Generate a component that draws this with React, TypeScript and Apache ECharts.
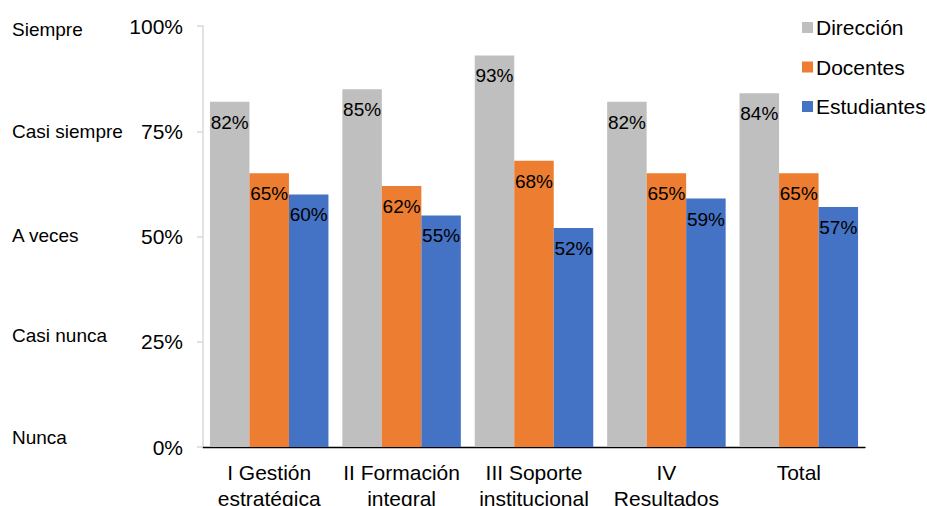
import React, { useEffect, useRef } from "react";
import * as echarts from "echarts";

const categories = ["I Gestión\nestratégica", "II Formación\nintegral", "III Soporte\ninstitucional", "IV\nResultados", "Total"];
const seriesNames = ["Dirección", "Docentes", "Estudiantes"];
const direccion = [82, 85, 93, 82, 84];
const docentes = [65, 62, 68, 65, 65];
const estudiantes = [60, 55, 52, 59, 57];
const yTicks = [0, 25, 50, 75, 100];
const scaleLabels = ["Nunca", "Casi nunca", "A veces", "Casi siempre", "Siempre"];
const colors = ["#bfbfbf", "#ed7d31", "#4472c4"];

const FONT = "Liberation Sans, Arial, sans-serif";

export default function App() {
  const ref = useRef<HTMLDivElement>(null);
  useEffect(() => {
    const chart = echarts.init(ref.current!, null, { renderer: "svg" });
    const top = 26;
    const bottom = 447;
    const scaleY = [438, 336, 236, 132, 30];
    const label = {
      show: true,
      position: "insideTop",
      distance: 11,
      formatter: (p: any) => p.value + "%",
      color: "#000",
      fontSize: 19,
      fontFamily: FONT,
    };
    const dataSets = [direccion, docentes, estudiantes];
    chart.setOption({
      animation: false,
      color: colors,
      textStyle: { fontFamily: FONT },
      grid: { left: 203, right: 62, top: top, bottom: 506 - bottom, outerBoundsMode: "none", containLabel: false },
      legend: {
        orient: "vertical",
        left: 797,
        top: 12,
        itemWidth: 11,
        itemHeight: 11,
        itemGap: 18.5,
        icon: "rect",
        textStyle: { fontSize: 21, color: "#000", fontFamily: FONT, lineHeight: 21, padding: [0, 0, 0, -2] },
        data: seriesNames,
      },
      xAxis: {
        type: "category",
        data: categories,
        axisLine: { lineStyle: { color: "#000", width: 1.3 } },
        axisTick: { show: false },
        axisLabel: { fontSize: 21, color: "#000", lineHeight: 26, margin: 12, interval: 0, fontFamily: FONT },
      },
      yAxis: {
        type: "value",
        min: 0,
        max: 100,
        interval: 25,
        axisLine: { show: true, lineStyle: { color: "#d9d9d9", width: 1.5 } },
        axisTick: { show: true, length: 6, lineStyle: { color: "#d9d9d9", width: 1.5 } },
        splitLine: { show: false },
        axisLabel: { fontSize: 21, color: "#000", margin: 20, fontFamily: FONT, formatter: (v: number) => (yTicks.includes(v) ? v + "%" : "") },
      },
      series: seriesNames.map((name, i) => ({
        name,
        type: "bar",
        data: dataSets[i],
        barGap: "0%",
        barCategoryGap: "10.5%",
        label,
        itemStyle: { color: colors[i] },
      })),
      graphic: scaleLabels.map((t, i) => ({
        type: "text",
        left: 12,
        top: scaleY[i] - 10,
        style: { text: t, fontSize: 19, fill: "#000", fontFamily: FONT },
      })),
    });
    return () => chart.dispose();
  }, []);
  return <div ref={ref} style={{ width: 927, height: 506, position: "absolute", left: 0, top: 0 }} />;
}
